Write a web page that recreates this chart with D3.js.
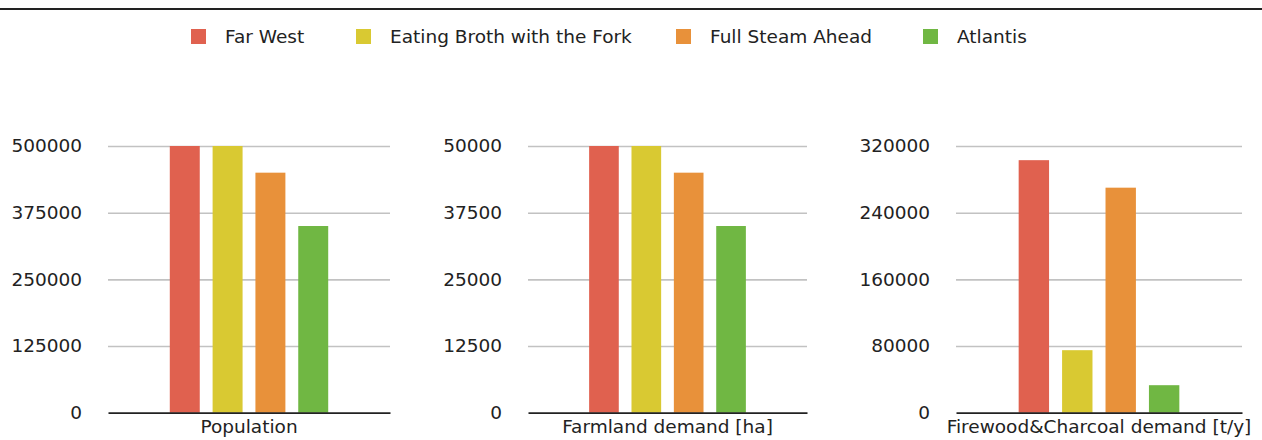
<!DOCTYPE html>
<html>
<head>
<meta charset="utf-8">
<script src="https://cdn.jsdelivr.net/npm/d3@7"></script>
<style>
  body { margin: 0; background: #fff; }
  svg { display: block; font-family: "DejaVu Sans", sans-serif; }
</style>
</head>
<body>
<svg width="1262" height="440"></svg>
<script>
// the data
var series = ['Far West', 'Eating Broth with the Fork', 'Full Steam Ahead', 'Atlantis'];
var colors = ['#e0614f', '#d9c932', '#e8913a', '#70b743'];

var population = [500000, 500000, 450000, 350000];
var farmland = [50000, 50000, 45000, 35000];
var firewood = [303000, 75000, 270000, 33000];

var popTicks = [0, 125000, 250000, 375000, 500000];
var farmTicks = [0, 12500, 25000, 37500, 50000];
var fireTicks = [0, 80000, 160000, 240000, 320000];

// one panel per measure
var panels = [
  {label: 'Population', values: population, ticks: popTicks, x0: 108, x1: 390},
  {label: 'Farmland demand [ha]', values: farmland, ticks: farmTicks, x0: 528, x1: 807},
  {label: 'Firewood&Charcoal demand [t/y]', values: firewood, ticks: fireTicks, x0: 956, x1: 1242}
];

var svg = d3.select('svg');
var yTop = 146, yBot = 412.7;

// top rule
svg.append('line')
  .attr('x1', 0).attr('x2', 1262)
  .attr('y1', 9).attr('y2', 9)
  .attr('stroke', '#222').attr('stroke-width', 2);

panels.forEach(function(p) {
  var y = d3.scaleLinear()
    .domain([0, d3.max(p.ticks)])
    .range([yBot, yTop]);

  var xOuter = d3.scaleBand()
    .domain([p.label])
    .range([p.x0, p.x1])
    .paddingInner(0)
    .paddingOuter(0.39);

  var xInner = d3.scaleBand()
    .domain(series)
    .range([xOuter(p.label), xOuter(p.label) + xOuter.bandwidth()])
    .paddingInner(0.3)
    .paddingOuter(0);

  var g = svg.append('g');

  // gridlines
  var grid = g.append('g')
    .attr('transform', `translate(${p.x0},0)`)
    .call(d3.axisLeft(y).tickValues(p.ticks.slice(1)).tickSize(-(p.x1 - p.x0)).tickFormat(''));
  grid.select('.domain').remove();
  grid.selectAll('line').attr('stroke', '#c2c2c2').attr('stroke-width', 1.6);

  // tick labels
  var yAxis = g.append('g')
    .attr('transform', `translate(${p.x0 - 26},0)`)
    .call(d3.axisLeft(y).tickValues(p.ticks).tickSize(0).tickPadding(0).tickFormat(d3.format('d')));
  yAxis.select('.domain').remove();
  yAxis.selectAll('text')
    .attr('font-family', '"DejaVu Sans", sans-serif')
    .attr('font-size', '18.5px')
    .attr('fill', '#222');

  // bars
  g.selectAll('rect')
    .data(p.values)
    .enter()
    .append('rect')
    .attr('x', (d, i) => xInner(series[i]))
    .attr('width', xInner.bandwidth())
    .attr('y', d => y(d))
    .attr('height', d => yBot - y(d))
    .attr('fill', (d, i) => colors[i]);

  // baseline
  var xAxis = g.append('g')
    .attr('transform', `translate(0,${yBot})`)
    .call(d3.axisBottom(xOuter).tickSize(0).tickPadding(0).tickSizeOuter(0));
  xAxis.select('.domain').attr('stroke', '#222').attr('stroke-width', 1.8);
  xAxis.selectAll('text')
    .attr('x', (p.x0 + p.x1) / 2 - (xOuter(p.label) + xOuter.bandwidth() / 2))
    .attr('y', 20.6)
    .attr('dy', 0)
    .attr('font-family', '"DejaVu Sans", sans-serif')
    .attr('font-size', '18.5px')
    .attr('fill', '#222');
});

// legend, item positions
var legX = [191, 356, 676, 923];
var items = svg.append('g').selectAll('g')
  .data(series)
  .enter()
  .append('g')
  .attr('transform', (d, i) => `translate(${legX[i]},0)`);

items.append('rect')
  .attr('width', 15).attr('height', 15)
  .attr('y', 29)
  .attr('fill', (d, i) => colors[i]);

items.append('text')
  .attr('x', 34)
  .attr('y', 42.7)
  .attr('font-size', '18.5px')
  .attr('fill', '#222')
  .text(d => d);
</script>
</body>
</html>
